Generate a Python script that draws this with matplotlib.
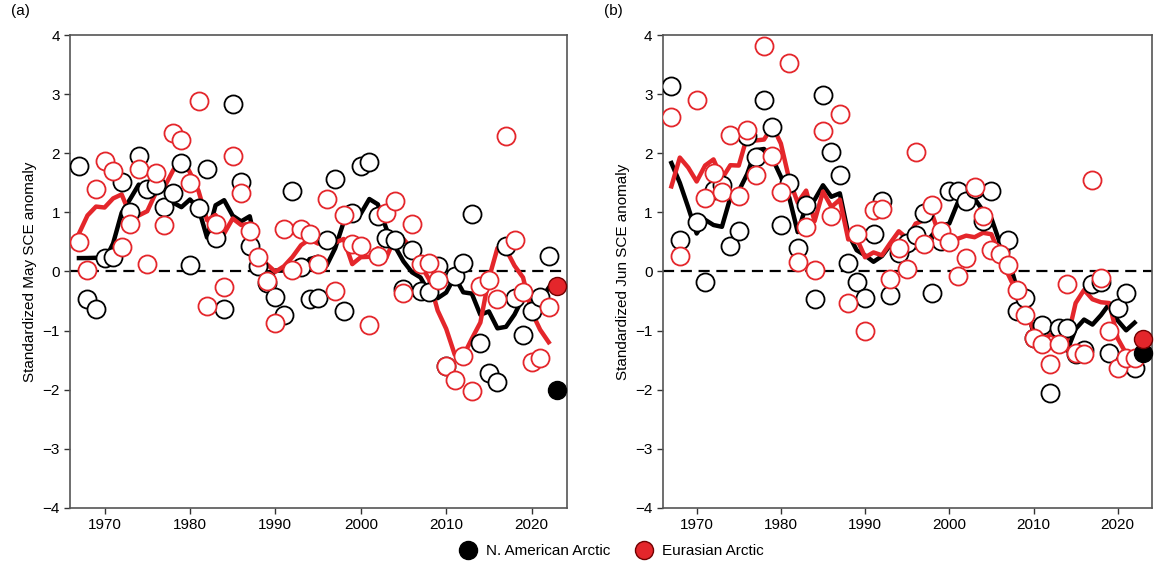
import numpy as np
import pandas as pd
import matplotlib
matplotlib.use("Agg")
import matplotlib.pyplot as plt
from matplotlib.lines import Line2D

plt.rcParams["font.family"] = ["Liberation Sans", "DejaVu Sans"]

years = list(range(1967, 2024))

# standardized May SCE anomaly
may_na = [1.78, -0.47, -0.63, 0.23, 0.25, 1.52, 1.00, 1.96, 1.40, 1.47,
          1.09, 1.32, 1.84, 0.11, 1.08, 1.74, 0.57, -0.63, 2.84, 1.51,
          0.43, 0.09, -0.20, -0.43, -0.74, 1.36, 0.08, -0.47, -0.45, 0.53,
          1.56, -0.67, 0.99, 1.78, 1.85, 0.94, 0.57, 0.54, -0.30, 0.37,
          -0.33, -0.35, 0.10, -1.60, -0.08, 0.15, 0.98, -1.21, -1.71, -1.87,
          0.43, -0.45, -1.08, -0.67, -0.43, 0.27, -2.01]
may_eu = [0.50, 0.03, 1.39, 1.87, 1.70, 0.42, 0.80, 1.73, 0.12, 1.67,
          0.78, 2.35, 2.22, 1.50, 2.89, -0.59, 0.80, -0.27, 1.95, 1.32,
          0.68, 0.25, -0.16, -0.87, 0.72, 0.03, 0.72, 0.63, 0.12, 1.22,
          -0.33, 0.96, 0.47, 0.43, -0.91, 0.26, 0.99, 1.19, -0.36, 0.80,
          0.12, 0.15, -0.14, -1.60, -1.83, -1.43, -2.03, -0.25, -0.15, -0.46,
          2.30, 0.53, -0.35, -1.53, -1.46, -0.60, -0.25]

# standardized June SCE anomaly (no 1969 value)
jun_na = [3.13, 0.54, np.nan, 0.83, -0.17, 1.37, 1.47, 0.43, 0.68, 2.30,
          1.93, 2.90, 2.45, 0.78, 1.49, 0.40, 1.12, -0.46, 2.98, 2.02,
          1.63, 0.15, -0.17, -0.45, 0.64, 1.19, -0.39, 0.31, 0.49, 0.61,
          0.99, -0.36, 0.51, 1.36, 1.36, 1.19, 1.40, 0.85, 1.36, 0.35,
          0.53, -0.67, -0.45, -1.12, -0.91, -2.05, -0.96, -0.96, -1.40, -1.32,
          -0.22, -0.17, -1.38, -0.61, -0.36, -1.63, -1.38]
jun_eu = [2.61, 0.27, np.nan, 2.90, 1.25, 1.67, 1.35, 2.31, 1.27, 2.39,
          1.64, 3.82, 1.96, 1.35, 3.53, 0.16, 0.76, 0.02, 2.37, 0.94,
          2.67, -0.54, 0.64, -1.00, 1.04, 1.06, -0.13, 0.40, 0.05, 2.02,
          0.46, 1.12, 0.68, 0.50, -0.07, 0.23, 1.43, 0.94, 0.37, 0.30,
          0.11, -0.31, -0.73, -1.12, -1.22, -1.56, -1.22, -0.22, -1.38, -1.39,
          1.54, -0.11, -1.01, -1.63, -1.46, -1.46, -1.15]

RED = "#e4262b"


def running_mean(vals):
    # 5-yr centred mean, final year left out
    s = pd.Series(vals[:-1], index=years[:-1])
    return s.rolling(5, center=True, min_periods=2).mean()


def panel(ax, na, eu, label, ylabel):
    ax.axhline(0, color="black", lw=1.6, ls=(0, (5, 3)), zorder=1)
    rm_na = running_mean(na)
    rm_eu = running_mean(eu)
    ax.plot(rm_na.index, rm_na.values, color="black", lw=3.2, zorder=2)
    ax.plot(rm_eu.index, rm_eu.values, color=RED, lw=3.2, zorder=3)
    ax.plot(years[:-1], na[:-1], "o", ms=13, mfc="white", mec="black",
            mew=1.3, zorder=4)
    ax.plot(years[:-1], eu[:-1], "o", ms=13, mfc="white", mec=RED,
            mew=1.3, zorder=5)
    ax.plot(years[-1], na[-1], "o", ms=13, mfc="black", mec="black",
            mew=1.0, zorder=6, clip_on=False)
    ax.plot(years[-1], eu[-1], "o", ms=13, mfc=RED, mec="#700000",
            mew=1.0, zorder=7, clip_on=False)

    ax.set_xlim(1966, 2024.1)
    ax.set_ylim(-4, 4)
    ax.set_xticks([1970, 1980, 1990, 2000, 2010, 2020])
    ax.set_yticks(range(-4, 5))
    ax.tick_params(direction="out", length=4, width=1, colors="#333333",
                   labelsize=11, labelcolor="black")
    for sp in ax.spines.values():
        sp.set_color("#555555")
        sp.set_linewidth(1.2)
    ax.set_ylabel(ylabel, fontsize=11, labelpad=4)
    ax.text(-0.12, 1.05, label, transform=ax.transAxes, fontsize=11,
            va="center", ha="left")


fig = plt.figure(figsize=(11.54, 5.65), dpi=100)
ax1 = fig.add_axes([0.061, 0.101, 0.430, 0.837])
ax2 = fig.add_axes([0.5745, 0.101, 0.424, 0.837])

panel(ax1, may_na, may_eu, "(a)", "Standardized May SCE anomaly")
panel(ax2, jun_na, jun_eu, "(b)", "Standardized Jun SCE anomaly")

handles = [
    Line2D([], [], marker="o", ls="none", ms=13, mfc="black", mec="black"),
    Line2D([], [], marker="o", ls="none", ms=13, mfc=RED, mec="#700000"),
]
fig.legend(handles, ["N. American Arctic", "Eurasian Arctic"],
           loc="center", bbox_to_anchor=(0.527, 0.024), ncol=2,
           frameon=False, fontsize=11, handletextpad=0.2, columnspacing=1.2)

fig.savefig("out.png", dpi=100)
